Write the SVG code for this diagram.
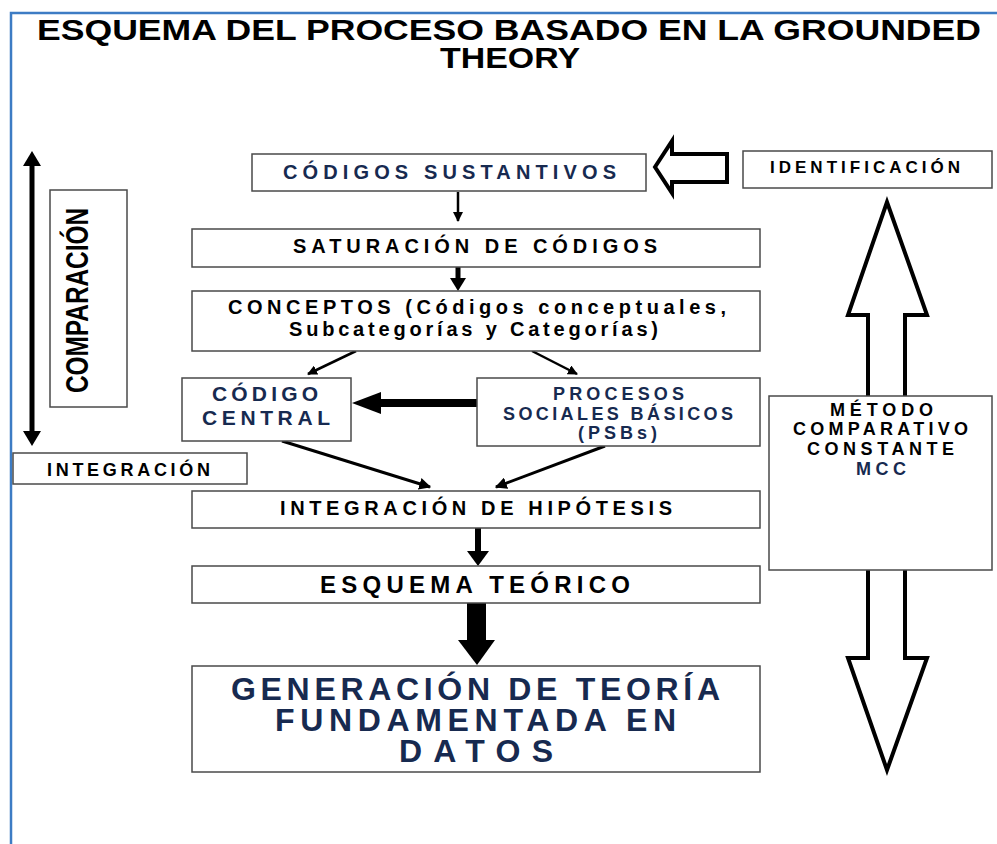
<svg xmlns="http://www.w3.org/2000/svg" width="997" height="844" viewBox="0 0 997 844">
<defs>
<style>
text{font-family:"Liberation Sans",Arial,sans-serif;font-weight:bold;}
.box{fill:#fff;stroke:#4a4a4a;stroke-width:1.5;}
.blk{fill:#000;}
.navy{fill:#172a50;}
.ln{stroke:#000;fill:none;}
.head{fill:#000;stroke:none;}
.hollow{fill:#fff;stroke:#000;stroke-width:4;stroke-linejoin:miter;}
</style>
<marker id="ah" viewBox="0 0 10 10" refX="9" refY="5" markerWidth="4" markerHeight="4" orient="auto" markerUnits="strokeWidth">
<path d="M0,0 L10,5 L0,10 Z" fill="#000"/>
</marker>
</defs>
<rect x="0" y="0" width="997" height="844" fill="#fff"/>
<g id="frame">
<path d="M11,844 L11,13 L997,13" fill="none" stroke="#3d7cc4" stroke-width="2.5"/>
</g>
<g id="title">
<text class="blk" x="37" y="40" font-size="29" textLength="944" lengthAdjust="spacingAndGlyphs">ESQUEMA DEL PROCESO BASADO EN LA GROUNDED</text>
<text class="blk" x="440" y="68" font-size="29" textLength="140" lengthAdjust="spacingAndGlyphs">THEORY</text>
</g>
<g id="connectors">
<line class="ln" x1="458" y1="192" x2="458" y2="221" stroke-width="2.5" marker-end="url(#ah)"/>
<line class="ln" x1="458" y1="267" x2="458" y2="280" stroke-width="5"/>
<polygon class="head" points="450,278 466,278 458,291"/>
<line class="ln" x1="356" y1="351" x2="308" y2="374" stroke-width="2.5" marker-end="url(#ah)"/>
<line class="ln" x1="532" y1="351" x2="577" y2="374" stroke-width="2.5" marker-end="url(#ah)"/>
<line class="ln" x1="477" y1="403" x2="378" y2="403" stroke-width="8"/>
<polygon class="head" points="352,403 381,392 381,414"/>
<line class="ln" x1="282" y1="441" x2="430" y2="487" stroke-width="3" marker-end="url(#ah)"/>
<line class="ln" x1="605" y1="446" x2="496" y2="487" stroke-width="3" marker-end="url(#ah)"/>
<line class="ln" x1="478" y1="528" x2="478" y2="553" stroke-width="6"/>
<polygon class="head" points="467,551 489,551 478,566"/>
<rect class="head" x="467" y="603" width="19" height="38"/>
<polygon class="head" points="458,640 495,640 477,665"/>
<line class="ln" x1="32" y1="162" x2="32" y2="435" stroke-width="5"/>
<polygon class="head" points="32,151 23,166 41,166"/>
<polygon class="head" points="32,446 23,431 41,431"/>
<polygon class="hollow" points="655,167 672,141 672,154 727,154 727,182 672,182 672,193" stroke-width="3"/>
<path class="hollow" d="M868,398 L868,315 L848,315 L887,202 L927,315 L905,315 L905,398"/>
<path class="hollow" d="M868,568 L868,658 L848,658 L887,770 L927,658 L905,658 L905,568"/>
</g>
<g id="codigos-sustantivos">
<rect class="box" x="252" y="154" width="394" height="37"/>
<text class="navy" x="283" y="179" font-size="20" textLength="333" lengthAdjust="spacing">CÓDIGOS SUSTANTIVOS</text>
</g>
<g id="identificacion">
<rect class="box" x="743" y="151" width="249" height="37"/>
<text class="blk" x="770" y="173" font-size="17" textLength="190" lengthAdjust="spacing">IDENTIFICACIÓN</text>
</g>
<g id="saturacion">
<rect class="box" x="192" y="229" width="568" height="38"/>
<text class="blk" x="293" y="253" font-size="20" textLength="364" lengthAdjust="spacing">SATURACIÓN DE CÓDIGOS</text>
</g>
<g id="conceptos">
<rect class="box" x="192" y="291" width="568" height="60"/>
<text class="blk" x="228" y="314" font-size="20" textLength="498" lengthAdjust="spacing">CONCEPTOS (Códigos conceptuales,</text>
<text class="blk" x="289" y="336" font-size="20" textLength="369" lengthAdjust="spacing">Subcategorías y Categorías)</text>
</g>
<g id="comparacion">
<rect class="box" x="50" y="190" width="77" height="217"/>
<text class="blk" transform="translate(88,393) rotate(-90)" x="0" y="0" font-size="31" textLength="185" lengthAdjust="spacingAndGlyphs">COMPARACIÓN</text>
</g>
<g id="codigo-central">
<rect class="box" x="182" y="378" width="169" height="63"/>
<text class="navy" x="212" y="401" font-size="21" textLength="106" lengthAdjust="spacing">CÓDIGO</text>
<text class="navy" x="202" y="425" font-size="21" textLength="128" lengthAdjust="spacing">CENTRAL</text>
</g>
<g id="psbs">
<rect class="box" x="477" y="378" width="283" height="68"/>
<text class="navy" x="553" y="400" font-size="18" textLength="131" lengthAdjust="spacing">PROCESOS</text>
<text class="navy" x="503" y="420" font-size="18" textLength="230" lengthAdjust="spacing">SOCIALES BÁSICOS</text>
<text class="navy" x="578" y="439" font-size="18" textLength="79" lengthAdjust="spacing">(PSBs)</text>
</g>
<g id="integracion">
<rect class="box" x="13" y="453" width="234" height="31"/>
<text class="blk" x="47" y="476" font-size="18" textLength="163" lengthAdjust="spacing">INTEGRACIÓN</text>
</g>
<g id="metodo">
<rect class="box" x="769" y="396" width="223" height="174"/>
<text class="blk" x="830" y="416" font-size="18" textLength="103" lengthAdjust="spacing">MÉTODO</text>
<text class="blk" x="793" y="435" font-size="18" textLength="175" lengthAdjust="spacing">COMPARATIVO</text>
<text class="blk" x="807" y="455" font-size="18" textLength="147" lengthAdjust="spacing">CONSTANTE</text>
<text class="navy" x="856" y="475" font-size="18" textLength="50" lengthAdjust="spacing">MCC</text>
</g>
<g id="integracion-hipotesis">
<rect class="box" x="192" y="491" width="568" height="37"/>
<text class="blk" x="280" y="515" font-size="20" textLength="392" lengthAdjust="spacing">INTEGRACIÓN DE HIPÓTESIS</text>
</g>
<g id="esquema-teorico">
<rect class="box" x="192" y="566" width="568" height="37"/>
<text class="blk" x="320" y="593" font-size="24" textLength="310" lengthAdjust="spacing">ESQUEMA TEÓRICO</text>
</g>
<g id="generacion">
<rect class="box" x="192" y="666" width="568" height="106"/>
<text class="navy" x="231" y="700" font-size="32" textLength="489" lengthAdjust="spacing">GENERACIÓN DE TEORÍA</text>
<text class="navy" x="275" y="731" font-size="32" textLength="401" lengthAdjust="spacing">FUNDAMENTADA EN</text>
<text class="navy" x="399" y="762" font-size="32" textLength="154" lengthAdjust="spacing">DATOS</text>
</g>
</svg>
